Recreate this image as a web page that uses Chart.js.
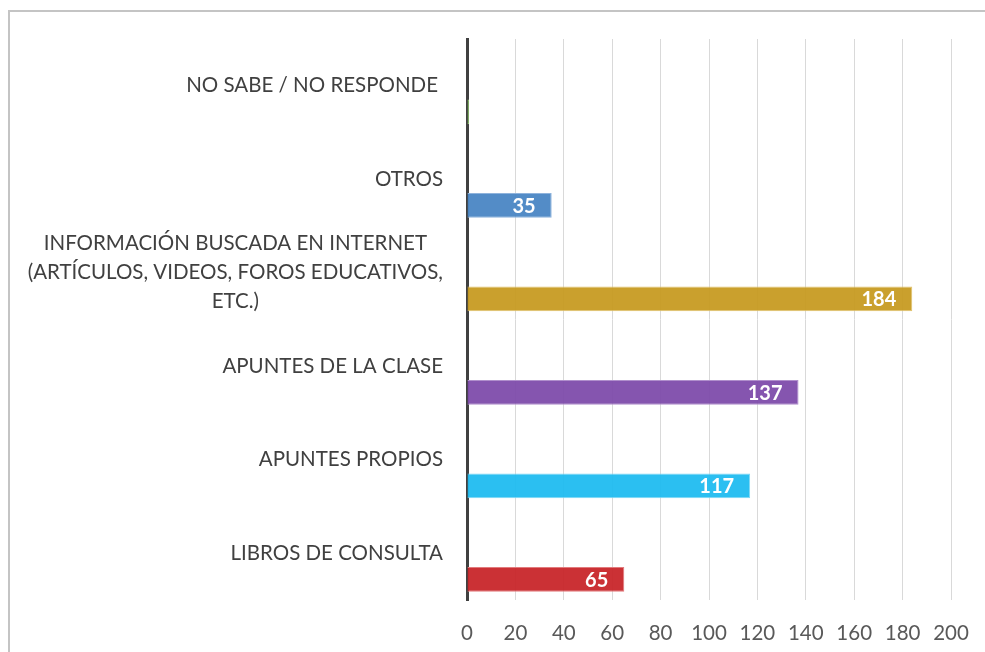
<!DOCTYPE html>
<html>
<head>
<meta charset="utf-8">
<script src="https://cdn.jsdelivr.net/npm/chart.js@4.4.0/dist/chart.umd.min.js"></script>
<style>
    html, body { margin: 0; padding: 0; background: #fff; overflow: hidden; }
    #frame { position: absolute; left: 8px; top: 10px; width: 1200px; height: 900px; border: 2px solid #c4c4c4; }
    #wrap { position: absolute; left: 0; top: 0; width: 985px; height: 652px; }
</style>
</head>
<body>
<div id="frame"></div>
<div id="wrap"><canvas id="fuentesChart" width="985" height="652"></canvas></div>
<script>
// categories from top to bottom
let categories = [
    ['NO SABE / NO RESPONDE'],
    ['OTROS'],
    ['INFORMACIÓN BUSCADA EN INTERNET', '(ARTÍCULOS, VIDEOS, FOROS EDUCATIVOS,', 'ETC.)'],
    ['APUNTES DE LA CLASE'],
    ['APUNTES PROPIOS'],
    ['LIBROS DE CONSULTA']
];
let values = [0, 35, 184, 137, 117, 65];
let barColors = ['#70ad47', '#4a86c4', '#c79b22', '#7e4cab', '#20bcf0', '#c8262a'];
let barBorders = ['#9bc97c', '#8fb3dc', '#e2c46e', '#b08fcc', '#7fd8f6', '#e27a7c'];
let xTicks = [0, 20, 40, 60, 80, 100, 120, 140, 160, 180, 200];

const labelFont = 'Lato, "Open Sans", sans-serif';

// draws the category names (centered lines) and the value labels inside the bars
const labelPlugin = {
    id: 'labelPlugin',
    afterDatasetsDraw(chart) {
        let ctx = chart.ctx;
        let yScale = chart.scales.y;
        let left = chart.chartArea.left;
        ctx.save();
        ctx.fillStyle = '#404040';
        ctx.font = '20.5px ' + labelFont;
        ctx.textAlign = 'center';
        ctx.textBaseline = 'middle';
        categories.forEach(function (lines, i) {
            let widest = 0;
            lines.forEach(function (l) { widest = Math.max(widest, ctx.measureText(l).width); });
            let cx = left - 24 - widest / 2;
            if (i === 0) cx -= 5;
            let cy = yScale.getPixelForValue(i);
            let lh = 29;
            lines.forEach(function (l, j) {
                ctx.fillText(l, cx, cy + (j - (lines.length - 1) / 2) * lh);
            });
        });

        let meta = chart.getDatasetMeta(2);
        ctx.fillStyle = '#ffffff';
        ctx.font = 'bold 20px ' + labelFont;
        ctx.textAlign = 'right';
        meta.data.forEach(function (bar, i) {
            if (!values[i]) return;
            ctx.fillText(String(values[i]), bar.x - 16, bar.y + 1);
        });
        ctx.restore();
    }
};

let ctx = document.getElementById('fuentesChart').getContext('2d');
const fuentesChart = new Chart(ctx, {
    type: 'bar',
    data: {
        labels: categories.map(function (c) { return c.join(' '); }),
        datasets: [
            { data: [], backgroundColor: barColors },
            { data: [], backgroundColor: barColors },
            {
                data: values,
                backgroundColor: barColors.map(function (c) { return c + 'f2'; }),
                borderColor: barBorders,
                borderWidth: 1,
                borderSkipped: 'left',
                minBarLength: 2
            }
        ]
    },
    options: {
        indexAxis: 'y',
        responsive: false,
        animation: false,
        devicePixelRatio: 1,
        layout: { padding: { top: 39, right: 34, left: 0, bottom: 0 } },
        datasets: { bar: { categoryPercentage: 0.84, barPercentage: 0.95 } },
        plugins: { legend: { display: false }, tooltip: { enabled: false } },
        scales: {
            x: {
                min: 0,
                max: 200,
                afterBuildTicks: function (s) { s.ticks = xTicks.map(function (v) { return { value: v }; }); },
                afterFit: function (s) { s.height = 52; s.paddingLeft = 0; s.paddingRight = 0; },
                grid: { color: '#d9d9d9', lineWidth: 1, drawTicks: false },
                border: { display: false },
                ticks: { color: '#595959', font: { family: labelFont, size: 20.5 }, padding: 21 }
            },
            y: {
                afterFit: function (s) { s.width = 467; },
                grid: { display: false },
                border: { display: true, color: '#404040', width: 3 },
                ticks: { display: false }
            }
        }
    },
    plugins: [labelPlugin]
});
</script>
</body>
</html>
